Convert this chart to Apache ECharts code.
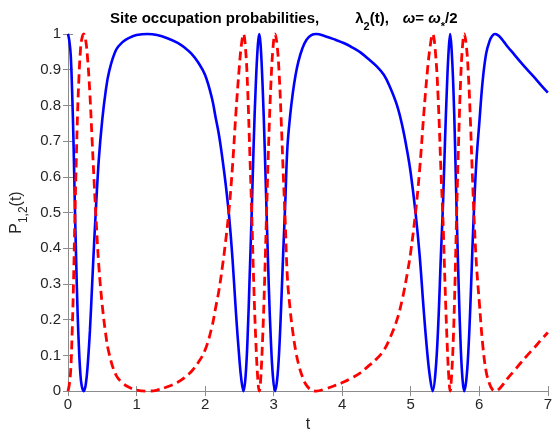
<!DOCTYPE html>
<html>
<head>
<meta charset="utf-8">
<script src="https://cdn.jsdelivr.net/npm/echarts@6/dist/echarts.min.js"></script>
<style>html,body{margin:0;padding:0;background:#fff;}#c{width:555px;height:438px;}</style>
</head>
<body>
<div id="c"></div>
<script>
const tVals = [0,0.02,0.04,0.06,0.08,0.10,0.12,0.14,0.16,0.18,0.20,0.23,0.26,0.29,0.32,0.35,0.38,0.41,0.45,0.50,0.55,0.60,0.70,0.80,0.90,1.00,1.16,1.30,1.45,1.60,1.70,1.80,1.90,2.00,2.10,2.15,2.20,2.25,2.30,2.35,2.40,2.45,2.50,2.53,2.56,2.59,2.62,2.65,2.68,2.71,2.74,2.77,2.79,2.81,2.84,2.87,2.90,2.93,2.96,2.99,3.02,3.05,3.08,3.11,3.14,3.17,3.20,3.24,3.28,3.32,3.36,3.42,3.48,3.55,3.62,3.75,3.90,4.03,4.15,4.27,4.37,4.50,4.61,4.70,4.80,4.88,4.95,5.00,5.07,5.13,5.19,5.24,5.28,5.32,5.36,5.40,5.44,5.47,5.50,5.53,5.555,5.575,5.595,5.62,5.645,5.67,5.70,5.73,5.755,5.78,5.81,5.84,5.87,5.90,5.93,5.96,6.00,6.05,6.10,6.15,6.19,6.23,6.27,6.31,6.36,6.42,6.50,6.60,6.70,6.80,6.90,7.00];
const p1Vals = [1.00,0.98,0.94,0.84,0.70,0.52,0.36,0.22,0.12,0.05,0.015,0.00,0.02,0.08,0.17,0.29,0.41,0.52,0.65,0.76,0.84,0.895,0.955,0.978,0.99,0.997,1.00,0.997,0.988,0.975,0.962,0.945,0.92,0.885,0.82,0.77,0.72,0.655,0.58,0.49,0.37,0.22,0.09,0.03,0.00,0.04,0.15,0.32,0.50,0.70,0.86,0.97,1.00,0.97,0.85,0.68,0.48,0.29,0.14,0.04,0.00,0.03,0.11,0.24,0.39,0.53,0.68,0.77,0.835,0.885,0.922,0.96,0.984,0.997,1.00,0.994,0.984,0.974,0.962,0.948,0.932,0.91,0.885,0.85,0.80,0.74,0.67,0.61,0.50,0.38,0.225,0.11,0.04,0.00,0.05,0.18,0.38,0.52,0.70,0.86,0.96,1.00,0.96,0.86,0.70,0.50,0.29,0.12,0.035,0.00,0.03,0.11,0.24,0.40,0.54,0.65,0.75,0.87,0.945,0.98,0.995,1.00,0.997,0.99,0.978,0.963,0.945,0.922,0.90,0.879,0.857,0.836];
const p2Vals = [0.00,0.02,0.06,0.16,0.30,0.48,0.64,0.78,0.88,0.95,0.985,1.00,0.98,0.92,0.83,0.71,0.59,0.48,0.35,0.24,0.16,0.105,0.045,0.022,0.01,0.003,0.00,0.003,0.012,0.025,0.038,0.055,0.08,0.115,0.18,0.23,0.28,0.345,0.42,0.51,0.63,0.78,0.91,0.97,1.00,0.96,0.85,0.68,0.50,0.30,0.14,0.03,0.00,0.03,0.15,0.32,0.52,0.71,0.86,0.96,1.00,0.97,0.89,0.76,0.61,0.47,0.32,0.23,0.165,0.115,0.078,0.04,0.016,0.003,0.00,0.006,0.016,0.026,0.038,0.052,0.068,0.09,0.115,0.15,0.20,0.26,0.33,0.39,0.50,0.62,0.775,0.89,0.96,1.00,0.95,0.82,0.62,0.48,0.30,0.14,0.04,0.00,0.04,0.14,0.30,0.50,0.71,0.88,0.965,1.00,0.97,0.89,0.76,0.60,0.46,0.35,0.25,0.13,0.055,0.02,0.005,0.00,0.003,0.01,0.022,0.037,0.055,0.078,0.10,0.121,0.143,0.164];
const xTicks = [0,1,2,3,4,5,6,7];
const yTicks = [0,0.1,0.2,0.3,0.4,0.5,0.6,0.7,0.8,0.9,1];

const FONT = '"Liberation Sans", Arial, Helvetica, sans-serif';
const AXC = '#8c8c8c';
const LBL = '#262626';

const chart = echarts.init(document.getElementById('c'), null, {renderer: 'canvas'});

function axisCommon() {
  return {
    axisLine: {show: true, lineStyle: {color: AXC, width: 1}},
    axisTick: {show: true, inside: true, length: 5, lineStyle: {color: AXC}},
    splitLine: {show: false}
  };
}

const option = {
  animation: false,
  backgroundColor: '#fff',
  title: {
    left: 105, top: 4,
    text: '{a|Site occupation probabilities,}{g1|}{a|λ}{s|2}{a|(t),}{g2|}{i|ω}{a|= }{i|ω}{s|*}{a|/2}',
    textStyle: {
      rich: {
        a: {fontFamily: FONT, fontWeight: 'bold', fontSize: 15, color: '#000', lineHeight: 20, verticalAlign: 'middle'},
        i: {fontFamily: FONT, fontWeight: 'bold', fontStyle: 'italic', fontSize: 15, color: '#000', lineHeight: 20, verticalAlign: 'middle'},
        s: {fontFamily: FONT, fontWeight: 'bold', fontSize: 11, color: '#000', lineHeight: 20, verticalAlign: 'bottom', padding: [0,0,-3,0]},
        g1: {width: 36},
        g2: {width: 14}
      }
    }
  },
  grid: {left: 68, right: 3, top: 34, bottom: 35, containLabel: false},
  xAxis: [
    Object.assign({
      type: 'value', min: xTicks[0], max: xTicks[xTicks.length - 1], interval: 1, position: 'bottom',
      name: 't', nameLocation: 'middle', nameGap: 20,
      nameTextStyle: {fontFamily: FONT, fontSize: 16, color: LBL},
      axisLabel: {fontFamily: FONT, fontSize: 15, color: LBL, margin: 6}
    }, axisCommon()),
    Object.assign({
      type: 'value', min: xTicks[0], max: xTicks[xTicks.length - 1], interval: 1, position: 'top',
      axisLabel: {show: false}
    }, axisCommon())
  ],
  yAxis: [
    Object.assign({
      type: 'value', min: yTicks[0], max: yTicks[yTicks.length - 1], interval: 0.1, position: 'left',
      name: '{p|P}{s|1,2}{p|(t)}', nameLocation: 'middle', nameGap: 39, nameRotate: 90,
      nameTextStyle: {
        rich: {
          p: {fontFamily: FONT, fontSize: 16, color: LBL, lineHeight: 20, verticalAlign: 'middle'},
          s: {fontFamily: FONT, fontSize: 12, color: LBL, lineHeight: 20, verticalAlign: 'bottom', padding: [0,0,-3,0]}
        }
      },
      axisLabel: {fontFamily: FONT, fontSize: 15, color: LBL, margin: 7,
        formatter: function (v) { return String(Math.round(v * 10) / 10); }}
    }, axisCommon()),
    Object.assign({
      type: 'value', min: yTicks[0], max: yTicks[yTicks.length - 1], interval: 0.1, position: 'right',
      axisLabel: {show: false}
    }, axisCommon())
  ],
  series: [
    {
      type: 'line', name: 'P1', xAxisIndex: 0, yAxisIndex: 0,
      data: tVals.map((t, i) => [t, p1Vals[i]]),
      smooth: 0.4, symbol: 'none', clip: false,
      lineStyle: {color: '#0000ff', width: 2.6}
    },
    {
      type: 'line', name: 'P2', xAxisIndex: 0, yAxisIndex: 0,
      data: tVals.map((t, i) => [t, p2Vals[i]]),
      smooth: 0.4, symbol: 'none', clip: false,
      lineStyle: {color: '#ff0000', width: 2.8, type: [9, 5]}
    }
  ]
};
chart.setOption(option);
</script>
</body>
</html>
